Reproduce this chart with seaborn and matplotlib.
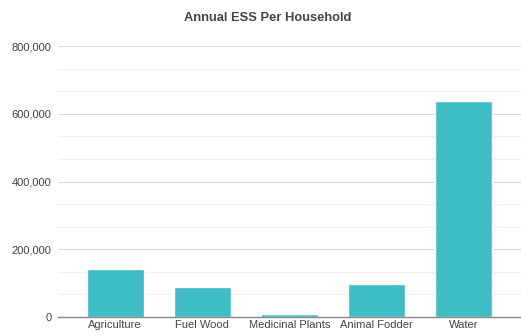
import matplotlib
matplotlib.use("Agg")
import matplotlib.pyplot as plt
import seaborn as sns
import pandas as pd
from matplotlib.ticker import FuncFormatter, MultipleLocator

categories = ["Agriculture", "Fuel Wood", "Medicinal Plants", "Animal Fodder", "Water"]
values = [141700, 87700, 8000, 97400, 639000]
yticks = [0, 200000, 400000, 600000, 800000]

sns.set_theme(style="white")
plt.rcParams['font.family'] = ['Liberation Sans', 'DejaVu Sans']

df = pd.DataFrame({"category": categories, "value": values})

fig = plt.figure(figsize=(5.21, 3.36), dpi=100)
ax = fig.add_axes([0.111, 0.0565, 0.889, 0.8065])
sns.barplot(data=df, x="category", y="value", color="#3FBDC4", width=0.65,
            saturation=1, ax=ax, zorder=3)
ax.set_xlim(-0.66, 4.66)
ax.set_ylim(0, 800000)
ax.set_yticks(yticks)
ax.yaxis.set_minor_locator(MultipleLocator(200000 / 3))
ax.yaxis.set_major_formatter(FuncFormatter(lambda v, p: f"{int(v):,}"))
ax.grid(axis="y", which="major", color="#dcdcdc", linewidth=0.8, zorder=0)
ax.grid(axis="y", which="minor", color="#efefef", linewidth=0.8, zorder=0)
ax.set_axisbelow(True)
for s in ["top", "right", "left"]:
    ax.spines[s].set_visible(False)
ax.spines["bottom"].set_color("#888888")
ax.spines["bottom"].set_linewidth(1.0)
ax.spines["bottom"].set_zorder(4)
ax.tick_params(axis="both", length=0, labelsize=8, colors="#444444")
ax.tick_params(axis="y", pad=4.5)
ax.tick_params(axis="x", pad=2.5)
ax.set_xlabel("")
ax.set_ylabel("")
fig.text(0.513, 0.946, "Annual ESS Per Household", ha="center", va="center",
         fontsize=9.3, fontweight="bold", color="#444444")
fig.savefig("out.png", dpi=100)
